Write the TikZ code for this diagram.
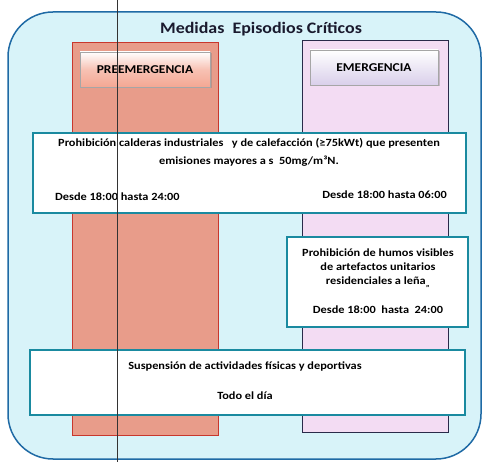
\documentclass[tikz,border=0pt]{standalone}
\usepackage{fontspec}
\setmainfont[FakeStretch=1.12]{Carlito}
\usetikzlibrary{shadows}
\definecolor{bgc}{HTML}{D8F3F9}
\definecolor{outerc}{HTML}{1F6AA5}
\definecolor{redf}{HTML}{E89C8A}
\definecolor{redb}{HTML}{C8372D}
\definecolor{purf}{HTML}{F3DCF3}
\definecolor{purb}{HTML}{2A2A4A}
\definecolor{tealb}{HTML}{1A8AA0}
\definecolor{prelab}{HTML}{F4A793}
\definecolor{emlab}{HTML}{D9CFEA}
\definecolor{titc}{HTML}{1A1A2E}
\tikzset{
  column/.style={draw, line width=1pt, minimum width=146pt, inner sep=0pt},
  labelbox/.style={draw=gray!70, line width=0.5pt, minimum width=130pt, minimum height=35pt, inner sep=0pt, drop shadow={shadow xshift=1.5pt, shadow yshift=-1.5pt, opacity=0.4}, font=\bfseries\fontsize{12}{14}\selectfont},
  infobox/.style={draw=tealb, fill=white, line width=2pt, inner sep=0pt},
  txt/.style={font=\bfseries\fontsize{11}{18}\selectfont, inner sep=0pt, align=center},
}
\begin{document}
\begin{tikzpicture}[x=1pt,y=-1pt]
\useasboundingbox (0,0) rectangle (485,462);
\fill[white] (0,0) rectangle (485,462);
\node[draw=outerc, fill=bgc, line width=1.5pt, rounded corners=45pt, minimum width=473pt, minimum height=447pt, inner sep=0pt] (outer) at (244.5,235.5) {};
\node[text=titc, font=\bfseries\fontsize{16}{18}\selectfont] (title) at (261,29) {Medidas\ \ Episodios Críticos};
\node[column, draw=redb, fill=redf, minimum height=393pt] (redcol) at (145,239.5) {};
\node[column, draw=purb, fill=purf, minimum height=392pt] (purcol) at (375,237) {};
\node[labelbox, top color=white, bottom color=prelab, middle color=prelab!70] (pre) at (145,69.5) {PREEMERGENCIA};
\node[labelbox, top color=white, bottom color=emlab, minimum width=128pt] (eme) at (374,67.5) {EMERGENCIA};
% box 1
\node[infobox, minimum width=433pt, minimum height=80pt] (box1) at (249.5,173) {};
\node[txt] (b1t) at (249,152) {Prohibición calderas industriales\ \ \ y de calefacción (≥75kWt) que presenten\\emisiones mayores a s\ \ 50mg/m³N.};
\node[txt, anchor=base west] (b1l) at (55,201) {Desde 18:00 hasta 24:00};
\node[txt, anchor=base east] (b1r) at (447,199) {Desde 18:00 hasta 06:00};
% box 2
\node[infobox, minimum width=181pt, minimum height=90pt] (box2) at (377.5,282) {};
\node[txt, font=\bfseries\fontsize{11}{14}\selectfont] (b2t) at (378,268) {Prohibición de humos visibles\\de artefactos unitarios\\residenciales a leña\textsubscript{,,}};
\node[txt, anchor=base] (b2b) at (378,314) {Desde 18:00\ \ hasta\ \ 24:00};
% box 3
\node[infobox, minimum width=435pt, minimum height=65pt] (box3) at (247.5,382.5) {};
\node[txt, anchor=base] (b3t) at (245,370) {Suspensión de actividades físicas y deportivas};
\node[txt, anchor=base] (b3b) at (245,400) {Todo el día};
% vertical line
\coordinate (vtop) at (117,0);
\coordinate (vbot) at (117,462);
\draw[line width=0.6pt, black!80] (vtop) -- (vbot);
\end{tikzpicture}
\end{document}
